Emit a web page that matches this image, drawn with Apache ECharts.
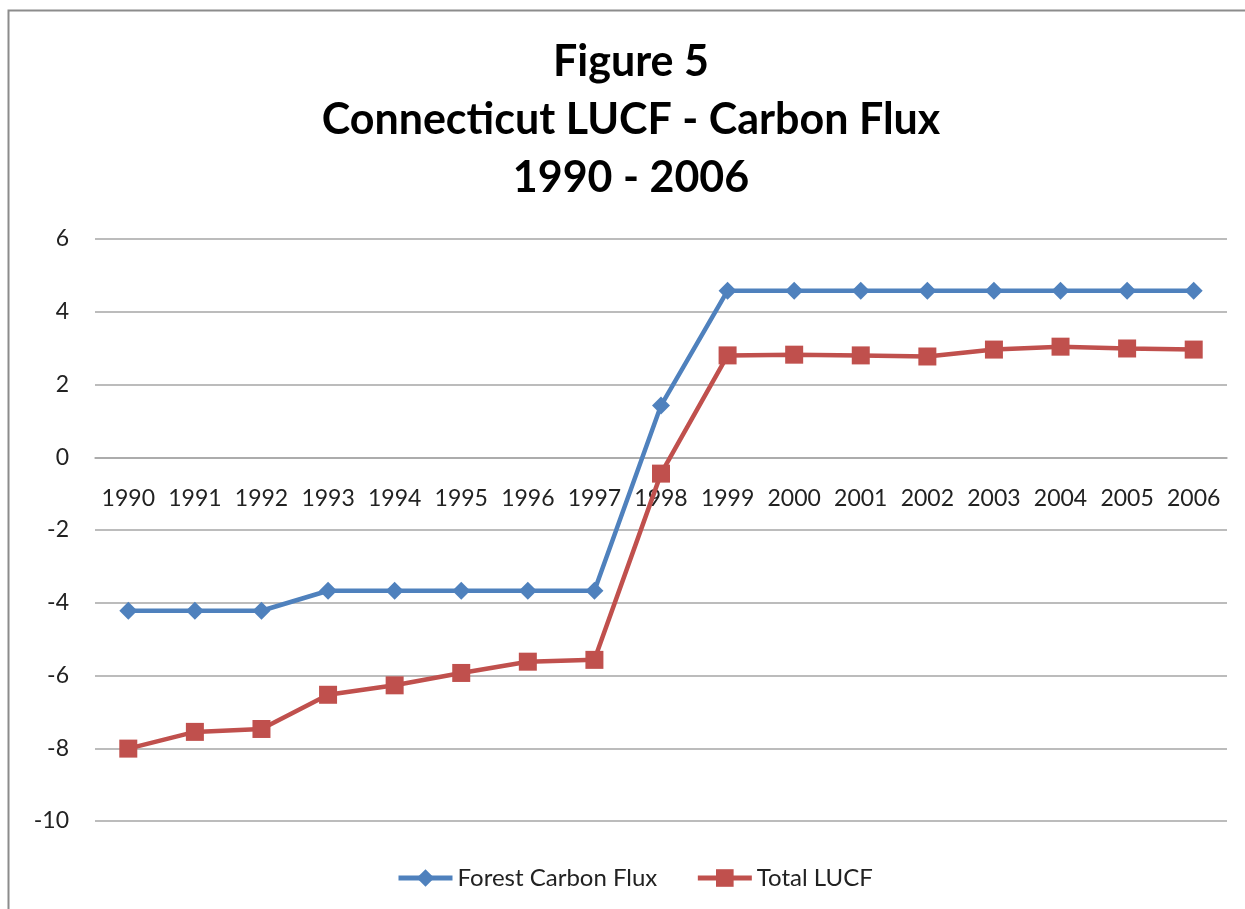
<!DOCTYPE html>
<html>
<head>
<meta charset="utf-8">
<script src="https://cdn.jsdelivr.net/npm/echarts@6/dist/echarts.min.js"></script>
<style>
  html, body { margin: 0; padding: 0; background: #fff; }
  #chart { width: 1245px; height: 909px; }
</style>
</head>
<body>
<div id="chart"></div>
<script>
const years = ['1990','1991','1992','1993','1994','1995','1996','1997','1998','1999','2000','2001','2002','2003','2004','2005','2006'];
const forestCarbonFlux = [-4.22, -4.22, -4.22, -3.67, -3.67, -3.67, -3.67, -3.67, 1.42, 4.58, 4.58, 4.58, 4.58, 4.58, 4.58, 4.58, 4.58];
const totalLUCF = [-8.01, -7.55, -7.47, -6.53, -6.27, -5.93, -5.62, -5.57, -0.45, 2.80, 2.82, 2.80, 2.77, 2.96, 3.04, 2.99, 2.96];
const yTicks = { min: -10, max: 6, interval: 2 };

const W = 1245, H = 909;
const gridTop = 239, gridBottom = 88;
const plotH = H - gridTop - gridBottom;
// move the category axis to the value-axis zero line
const zeroOffset = -plotH * (0 - yTicks.min) / (yTicks.max - yTicks.min);

const chart = echarts.init(document.getElementById('chart'));
const font = 'Lato, "Open Sans", sans-serif';
chart.setOption({
  backgroundColor: '#ffffff',
  animation: false,
  graphic: [{
    type: 'rect', left: 6, top: 8, silent: true,
    shape: { width: 1400, height: 1100 },
    style: { fill: 'none', stroke: '#8c8c8c', lineWidth: 2 }
  }],
  title: {
    text: 'Figure 5\nConnecticut LUCF - Carbon Flux\n1990 - 2006',
    left: 626, top: 28, textAlign: 'center',
    textStyle: { fontFamily: font, fontWeight: 'bold', fontSize: 43, lineHeight: 58, color: '#000' }
  },
  legend: {
    bottom: 14, left: 391,
    itemWidth: 54, itemHeight: 22, itemGap: 38,
    lineStyle: { width: 5 },
    textStyle: { fontFamily: font, fontSize: 24, color: '#222' },
    data: ['Forest Carbon Flux', 'Total LUCF']
  },
  grid: { left: 95, right: 18, top: gridTop, bottom: gridBottom, containLabel: false },
  xAxis: {
    type: 'category', data: years, boundaryGap: true,
    offset: zeroOffset,
    axisLine: { onZero: false, lineStyle: { color: '#a6a6a6', width: 1.5 } },
    axisTick: { show: false },
    axisLabel: { margin: 30, fontFamily: font, fontSize: 23, color: '#222', interval: 0 }
  },
  yAxis: {
    type: 'value', min: yTicks.min, max: yTicks.max, interval: yTicks.interval,
    axisLine: { show: false }, axisTick: { show: false },
    axisLabel: { margin: 26, fontFamily: font, fontSize: 23, color: '#222' },
    splitLine: { lineStyle: { color: '#a6a6a6', width: 1.5 } }
  },
  series: [{
    name: 'Forest Carbon Flux', type: 'line', data: forestCarbonFlux,
    symbol: 'diamond', symbolSize: [18, 18], showAllSymbol: true,
    lineStyle: { color: '#4f81bd', width: 4.5 },
    itemStyle: { color: '#4f81bd' }
  }, {
    name: 'Total LUCF', type: 'line', data: totalLUCF,
    symbol: 'rect', symbolSize: 18, showAllSymbol: true,
    lineStyle: { color: '#c0504d', width: 4.5 },
    itemStyle: { color: '#c0504d' }
  }]
});
</script>
</body>
</html>
